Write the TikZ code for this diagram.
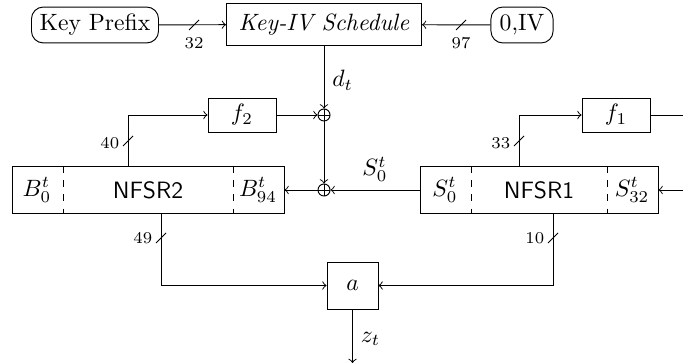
\documentclass[tikz,border=0pt]{standalone}
\usetikzlibrary{calc}
\begin{document}
\begin{tikzpicture}[x=0.4235pt,y=-0.4235pt,
  box/.style={draw,inner sep=0pt,align=center},
  rbox/.style={box,rounded corners=5pt},
  xor/.style={circle,draw,inner sep=0pt,minimum size=5.1pt,
    path picture={\draw (path picture bounding box.north) -- (path picture bounding box.south)
      (path picture bounding box.west) -- (path picture bounding box.east);}},
  num/.style={font=\scriptsize,inner sep=1pt},
  slashmark/.pic={\draw (-5,5) -- (5,-5);},
  sep/.style={dashed}]
\useasboundingbox (0,0) rectangle (683,363);

% top row
\node[rbox,minimum width=53.8pt,minimum height=15.2pt] (kp) at (95,25) {Key Prefix};
\node[box,minimum width=82.6pt,minimum height=17.4pt] (kiv) at (324,24.5) {\textit{Key-IV Schedule}};
\node[rbox,minimum width=26.3pt,minimum height=15.2pt] (iv) at (522,25) {0,IV};

% functions
\node[box,minimum width=28.8pt,minimum height=14.4pt] (f2) at (242,115) {$f_2$};
\node[box,minimum width=28.8pt,minimum height=14.4pt] (f1) at (616,115) {$f_1$};

% xors
\node[xor] (x1) at (324,115) {};
\node[xor] (x2) at (324,190) {};

% NFSR2
\node[box,minimum width=115.2pt,minimum height=20.3pt] (nfsr2) at (148,190) {};
\node (b0) at (37,190) {$B_0^t$};
\node (nf2) at (148,190) {\textsf{NFSR2}};
\node (b94) at (258,190) {$B_{94}^t$};
\draw[sep] (63,166) -- (63,214);
\draw[sep] (233,166) -- (233,214);

% NFSR1
\node[box,minimum width=100.8pt,minimum height=20.3pt] (nfsr1) at (539,190) {};
\node (s0) at (445,190) {$S_0^t$};
\node (nf1) at (539,190) {\textsf{NFSR1}};
\node (s32) at (632,190) {$S_{32}^t$};
\draw[sep] (471,166) -- (471,214);
\draw[sep] (607,166) -- (607,214);

% output function
\node[box,minimum width=21.6pt,minimum height=19.9pt] (a) at (352.5,285.5) {$a$};

% coordinates
\coordinate (s40) at (128,141);
\coordinate (s33) at (519,141);
\coordinate (s49) at (161,238);
\coordinate (s10) at (553,238);
\coordinate (r1) at (683,115);
\coordinate (r2) at (683,190);
\coordinate (zend) at (352.5,363);

% connectors
\draw[->] (kp) -- (kiv);
\pic at (194,25) {slashmark};
\node[num] (l32) at (194,43) {32};
\draw[->] (iv) -- (kiv);
\pic at (461,25) {slashmark};
\node[num] (l97) at (461,43) {97};

\draw[->] (kiv.south -| x1) -- node[right,pos=0.55] {$d_t$} (x1.north);
\draw[->] (f2.east) -- (x1.west);
\draw[->] (x1.south) -- (x2.north);
\draw[->] (nfsr1.west) -- node[above] {$S_0^t$} (x2.east);
\draw[->] (x2.west) -- (nfsr2.east);

\draw[->] (nfsr2.north -| s40) |- (f2.west);
\pic at (s40) {slashmark};
\node[num,left] (l40) at ($(s40)+(-6,2)$) {40};

\draw[->] (nfsr1.north -| s33) |- (f1.west);
\pic at (s33) {slashmark};
\node[num,left] (l33) at ($(s33)+(-6,2)$) {33};

\draw (f1.east) -- (r1);
\draw[->] (r2) -- (nfsr1.east);

\draw[->] (nfsr2.south -| s49) |- (a.west);
\pic at (s49) {slashmark};
\node[num,left] (l49) at ($(s49)+(-6,0)$) {49};

\draw[->] (nfsr1.south -| s10) |- (a.east);
\pic at (s10) {slashmark};
\node[num,left] (l10) at ($(s10)+(-6,0)$) {10};

\draw[->] (a.south) -- node[right,pos=0.55] {$z_t$} (zend);
\end{tikzpicture}
\end{document}
